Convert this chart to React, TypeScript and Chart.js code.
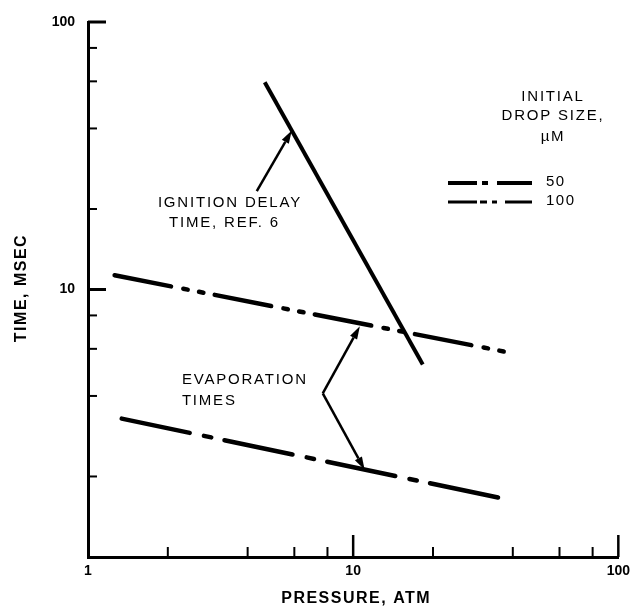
import React, { useEffect, useRef } from 'react';
import { Chart, registerables } from 'chart.js';

Chart.register(...registerables);

const FONT = '"Liberation Sans", Arial, Helvetica, sans-serif';

// ---- data (pressure in atm, time in msec) ----
// Ignition delay time, Ref. 6 (solid line)
const ignitionPressure = [4.64, 18.3];
const ignitionTime = [59.5, 5.24];
// Evaporation time, initial drop size 100 um
const evap100Pressure = [1.26, 37.8];
const evap100Time = [11.3, 5.84];
// Evaporation time, initial drop size 50 um
const evap50Pressure = [1.34, 37.2];
const evap50Time = [3.29, 1.65];

// ---- axes ----
const tickValues = [1, 2, 4, 6, 8, 10, 20, 40, 60, 80, 100];
const majorTickValues = [1, 10, 100];
const xLabeledTicks = [1, 10, 100];
const yLabeledTicks = [10, 100];
const xTitle = 'PRESSURE, ATM';
const yTitle = 'TIME, MSEC';

// ---- legend ----
const legendTitle = ['INITIAL', 'DROP SIZE,', 'µM'];
const legendLabels = ['50', '100'];

// ---- annotations (anchored in data coordinates: [pressure, time]) ----
const ignitionText = ['IGNITION DELAY', 'TIME, REF. 6'];
const ignitionTextAt = [[3.43, 21.0], [3.27, 17.7]];
const ignitionArrowFrom = [4.33, 23.3];
const ignitionArrowTo = [5.87, 39.3];
const evapText = ['EVAPORATION', 'TIMES'];
const evapTextAt = [[2.26, 4.58], [2.26, 3.85]];
const evapArrowVertex = [7.68, 4.09];
const evapArrowToUpper = [10.6, 7.29];
const evapArrowToLower = [11.05, 2.12];

const DASH_100 = [57.5, 12.5, 4.5, 11.5, 4.5, 11.5];
const DASH_50 = [69.5, 14.5, 7.5, 13.5];

function toXY(px: number[], ty: number[]) {
  return px.map((p, i) => ({ x: p, y: ty[i] }));
}

function arrow(ctx: CanvasRenderingContext2D, x0: number, y0: number, x1: number, y1: number) {
  const head = 13;
  const half = 4;
  const a = Math.atan2(y1 - y0, x1 - x0);
  const bx = x1 - head * Math.cos(a);
  const by = y1 - head * Math.sin(a);
  ctx.beginPath();
  ctx.moveTo(x0, y0);
  ctx.lineTo(bx, by);
  ctx.stroke();
  ctx.beginPath();
  ctx.moveTo(x1, y1);
  ctx.lineTo(bx + half * Math.sin(a), by - half * Math.cos(a));
  ctx.lineTo(bx - half * Math.sin(a), by + half * Math.cos(a));
  ctx.closePath();
  ctx.fill();
}

const overlayPlugin = {
  id: 'overlay',
  afterDraw(chart: any) {
    const ctx: CanvasRenderingContext2D = chart.ctx;
    const xs = chart.scales.x;
    const ys = chart.scales.y;
    const area = chart.chartArea;
    const px = (v: number) => xs.getPixelForValue(v);
    const py = (v: number) => ys.getPixelForValue(v);

    ctx.save();
    ctx.strokeStyle = '#000';
    ctx.fillStyle = '#000';

    // inward tick marks
    ctx.lineCap = 'butt';
    for (const v of tickValues) {
      if (v === 1) continue;
      const major = majorTickValues.includes(v);
      const X = px(v);
      ctx.lineWidth = major ? 2.5 : 2;
      ctx.beginPath();
      ctx.moveTo(X, area.bottom);
      ctx.lineTo(X, area.bottom - (major ? 22 : 10));
      ctx.stroke();
      const Y = py(v);
      ctx.lineWidth = major ? 3 : 2;
      ctx.beginPath();
      ctx.moveTo(area.left, Y);
      ctx.lineTo(area.left + (major ? 18 : 9), Y);
      ctx.stroke();
    }

    // arrows
    ctx.lineWidth = 2.5;
    ctx.lineJoin = 'round';
    arrow(ctx, px(ignitionArrowFrom[0]), py(ignitionArrowFrom[1]), px(ignitionArrowTo[0]), py(ignitionArrowTo[1]));
    arrow(ctx, px(evapArrowVertex[0]), py(evapArrowVertex[1]), px(evapArrowToUpper[0]), py(evapArrowToUpper[1]));
    arrow(ctx, px(evapArrowVertex[0]), py(evapArrowVertex[1]), px(evapArrowToLower[0]), py(evapArrowToLower[1]));

    // annotation text
    (ctx as any).letterSpacing = '1.8px';
    ctx.font = `15px ${FONT}`;
    ctx.textBaseline = 'middle';
    ctx.textAlign = 'center';
    ignitionText.forEach((t, i) => {
      ctx.fillText(t, px(ignitionTextAt[i][0]), py(ignitionTextAt[i][1]));
    });
    ctx.textAlign = 'left';
    evapText.forEach((t, i) => {
      ctx.fillText(t, px(evapTextAt[i][0]), py(evapTextAt[i][1]));
    });

    // legend
    const lx = area.left + 465; // legend title centre
    ctx.textAlign = 'center';
    const titleYs = [97, 116, 137];
    legendTitle.forEach((t, i) => ctx.fillText(t, lx, titleYs[i]));
    const sx0 = area.left + 360;
    const sx1 = area.left + 444;
    const rowY = [183, 202];
    const rowDash = [[29, 5, 6, 9, 40], [29, 3, 7, 5, 5, 8, 40]];
    const rowW = [4, 3];
    rowY.forEach((yy, i) => {
      ctx.lineWidth = rowW[i];
      ctx.setLineDash(rowDash[i]);
      ctx.beginPath();
      ctx.moveTo(sx0, yy);
      ctx.lineTo(sx1, yy);
      ctx.stroke();
    });
    ctx.setLineDash([]);
    (ctx as any).letterSpacing = '1.5px';
    ctx.textAlign = 'left';
    legendLabels.forEach((t, i) => ctx.fillText(t, sx1 + 14, rowY[i] - 1));

    // axis titles
    (ctx as any).letterSpacing = '1.5px';
    ctx.font = `bold 16px ${FONT}`;
    ctx.textAlign = 'center';
    ctx.fillText(xTitle, (area.left + area.right) / 2 + 3, 599);
    ctx.save();
    ctx.translate(22, 288);
    ctx.rotate(-Math.PI / 2);
    ctx.fillText(yTitle, 0, 0);
    ctx.restore();

    ctx.restore();
  },
};

export default function App() {
  const ref = useRef<HTMLCanvasElement | null>(null);

  useEffect(() => {
    if (!ref.current) return;
    const tickSetter = (scale: any) => {
      scale.ticks = tickValues.map((v) => ({ value: v, major: false }));
    };
    const labelFor = (list: number[]) => (value: any) =>
      list.includes(Number(value)) ? String(value) : '';
    const chart = new Chart(ref.current, {
      type: 'line',
      data: {
        datasets: [
          {
            label: 'Ignition delay time, Ref. 6',
            data: toXY(ignitionPressure, ignitionTime),
            borderColor: '#000',
            borderWidth: 4,
            pointRadius: 0,
            fill: false,
            tension: 0,
          },
          {
            label: legendLabels[1],
            data: toXY(evap100Pressure, evap100Time),
            borderColor: '#000',
            borderWidth: 4.5,
            borderDash: DASH_100,
            borderCapStyle: 'round',
            pointRadius: 0,
            fill: false,
            tension: 0,
          },
          {
            label: legendLabels[0],
            data: toXY(evap50Pressure, evap50Time),
            borderColor: '#000',
            borderWidth: 4.5,
            borderDash: DASH_50,
            borderCapStyle: 'round',
            pointRadius: 0,
            fill: false,
            tension: 0,
          },
        ],
      },
      options: {
        animation: false,
        responsive: false,
        events: [],
        layout: { padding: { top: 22, right: 17, left: 0, bottom: 0 } },
        plugins: {
          legend: { display: false },
          tooltip: { enabled: false },
        },
        scales: {
          x: {
            type: 'logarithmic',
            min: 1,
            max: 100,
            afterBuildTicks: tickSetter,
            afterFit: (s: any) => {
              s.height = 54;
            },
            grid: { display: false, drawTicks: false },
            border: { display: true, color: '#000', width: 3 },
            ticks: {
              autoSkip: false,
              maxRotation: 0,
              padding: 6,
              color: '#000',
              font: { family: FONT, size: 14, weight: 'bold' },
              callback: labelFor(xLabeledTicks),
            },
            title: { display: false, text: xTitle },
          },
          y: {
            type: 'logarithmic',
            min: 1,
            max: 100,
            afterBuildTicks: tickSetter,
            afterFit: (s: any) => {
              s.width = 88;
            },
            grid: { display: false, drawTicks: false },
            border: { display: true, color: '#000', width: 3 },
            ticks: {
              autoSkip: false,
              padding: 13,
              color: '#000',
              font: { family: FONT, size: 14, weight: 'bold' },
              callback: labelFor(yLabeledTicks),
            },
            title: { display: false, text: yTitle },
          },
        },
      },
      plugins: [overlayPlugin],
    } as any);
    return () => chart.destroy();
  }, []);

  return (
    <div style={{ position: 'absolute', left: 0, top: 0, width: 636, height: 611, background: '#fff' }}>
      <canvas ref={ref} width={636} height={611} style={{ width: 636, height: 611, display: 'block' }} />
    </div>
  );
}
